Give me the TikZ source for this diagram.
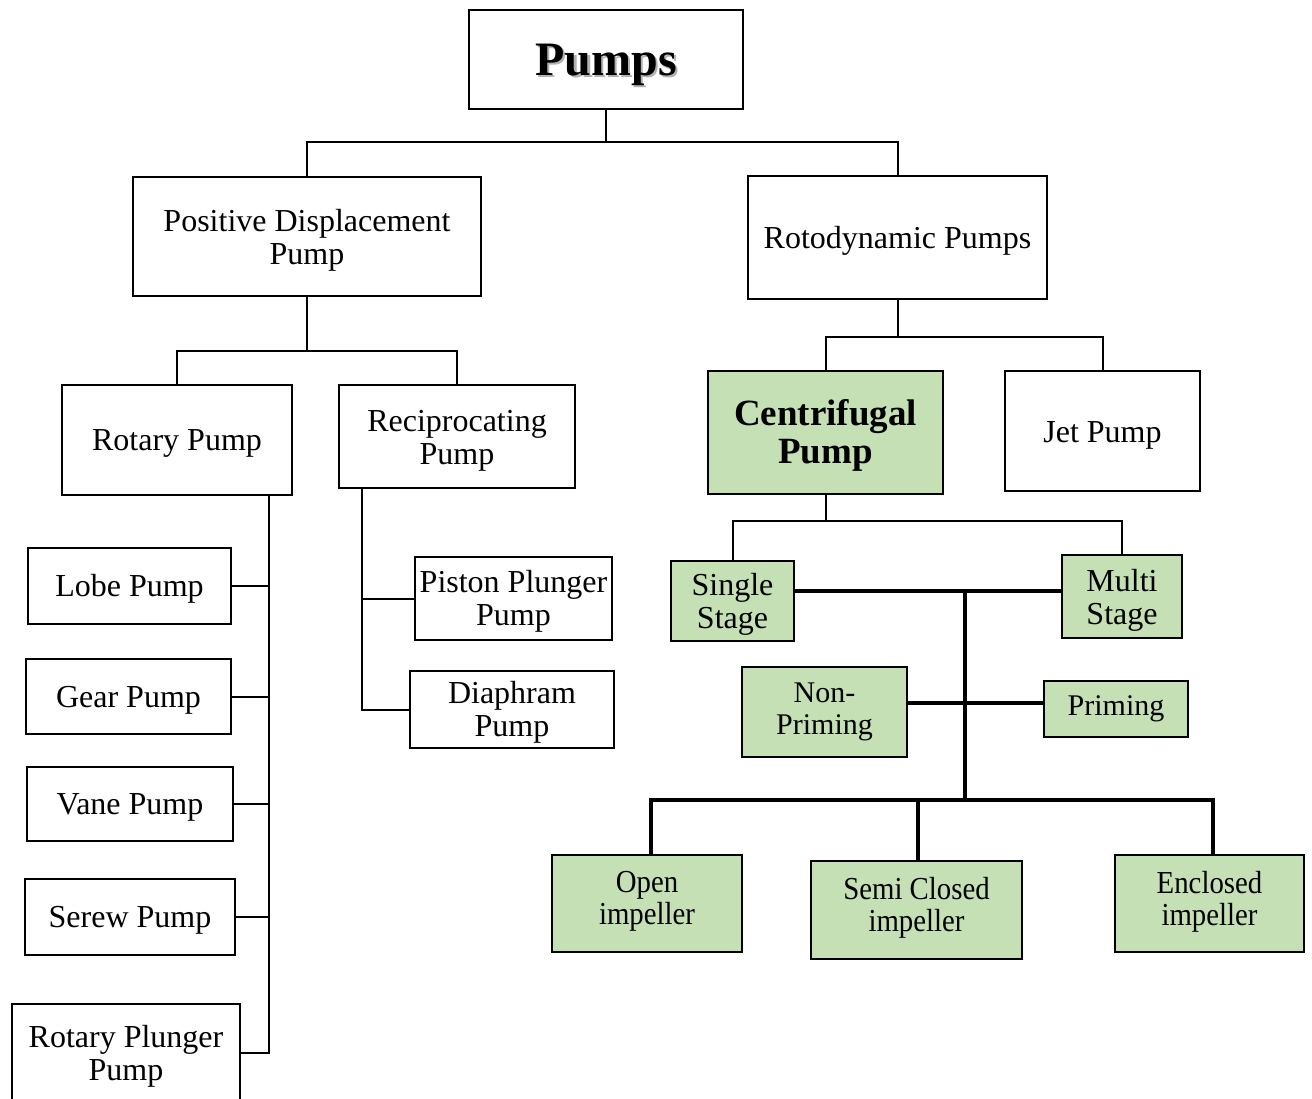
\documentclass[tikz,border=0pt]{standalone}
\usepackage{fontspec}
\setmainfont{Liberation Serif}
\newfontfamily\condfont[FakeStretch=0.9]{Liberation Serif}
\definecolor{boxgreen}{RGB}{197,224,180}
\newcommand\tstrut[1]{\rule{0pt}{#1}}
\newcommand\bstrut[1]{\rule[-#1]{0pt}{0pt}}
\begin{document}
\begin{tikzpicture}[x=1pt,y={(0pt,-1pt)},
  box/.style={draw=black,line width=2pt,fill=white,inner sep=0pt,align=center,
    font=\fontsize{32}{33}\selectfont},
  gbox/.style={box,fill=boxgreen},
  thin/.style={line width=2pt,line join=miter},
  thickline/.style={line width=3.5pt,line join=miter}]
\useasboundingbox (0,0) rectangle (1312,1099);
\clip (0,0) rectangle (1312,1099);
% nodes
\node[box,minimum width=274pt,minimum height=99pt] (pumps) at (606,59.5)
  {\bfseries\fontsize{48}{50}\selectfont\tstrut{44pt}\makebox[0pt][l]{\kern2.5pt\raisebox{-2.5pt}{\color{black!30}Pumps}}Pumps};
\node[box,minimum width=348pt,minimum height=119pt] (pd) at (307,236.5) {\tstrut{30pt}Positive Displacement\\Pump};
\node[box,minimum width=299pt,minimum height=123pt] (roto) at (897.5,237.5) {\tstrut{29pt}Rotodynamic Pumps};
\node[box,minimum width=230pt,minimum height=110pt] (rotary) at (177,440) {\tstrut{28pt}Rotary Pump};
\node[box,minimum width=236pt,minimum height=103pt] (recip) at (457,436.5) {\tstrut{30pt}Reciprocating\\Pump};
\node[box,minimum width=203pt,minimum height=76pt] (lobe) at (129.5,586) {\tstrut{28pt}Lobe Pump};
\node[box,minimum width=205pt,minimum height=75pt] (gear) at (128.5,696.5) {\tstrut{28pt}Gear Pump};
\node[box,minimum width=206pt,minimum height=74pt] (vane) at (130,804) {\tstrut{28pt}Vane Pump};
\node[box,minimum width=210pt,minimum height=76pt] (serew) at (130,917) {\tstrut{28pt}Serew Pump};
\node[box,minimum width=228pt,minimum height=98pt] (rplunger) at (126,1053) {\tstrut{29pt}Rotary Plunger\\Pump};
\node[box,minimum width=197pt,minimum height=83pt] (piston) at (513.5,598.5) {\tstrut{28pt}Piston Plunger\\Pump};
\node[box,minimum width=204pt,minimum height=77pt] (diaphram) at (512,709.5) {\tstrut{28pt}Diaphram\\Pump};
\node[gbox,minimum width=235pt,minimum height=123pt,font=\bfseries\fontsize{37}{38}\selectfont] (centrifugal) at (825.5,432.5) {\tstrut{31pt}Centrifugal\\Pump};
\node[box,minimum width=195pt,minimum height=120pt] (jet) at (1102.5,431) {\tstrut{29pt}Jet Pump};
\node[gbox,minimum width=123pt,minimum height=80pt] (single) at (732.5,601) {\tstrut{29pt}Single\\Stage};
\node[gbox,minimum width=120pt,minimum height=83pt] (multi) at (1122,596.5) {\tstrut{29pt}Multi\\Stage};
\node[gbox,minimum width=165pt,minimum height=90pt,font=\fontsize{30}{32}\selectfont] (nonpriming) at (824.5,712) {Non-\\Priming};
\node[gbox,minimum width=144pt,minimum height=56pt,font=\fontsize{30}{32}\selectfont] (priming) at (1116,709) {Priming};
\node[gbox,minimum width=190pt,minimum height=97pt,font=\condfont\fontsize{32}{32}\selectfont] (open) at (647,903.5) {Open\\impeller\bstrut{11pt}};
\node[gbox,minimum width=211pt,minimum height=98pt,font=\condfont\fontsize{32}{32}\selectfont] (semi) at (916.5,910) {Semi Closed\\impeller\bstrut{11pt}};
\node[gbox,minimum width=189pt,minimum height=97pt,font=\condfont\fontsize{32}{32}\selectfont] (enclosed) at (1209.5,903.5) {Enclosed\\impeller\bstrut{11pt}};
% helper coordinates
\coordinate (rb) at ([xshift=-24pt]rotary.south east);
\coordinate (qb) at ([xshift=24pt]recip.south west);
\coordinate (hub1) at (965,591);
\coordinate (hub2) at (965,703);
\coordinate (hub3) at (965,800);
\coordinate (oc) at ([xshift=4pt]open.north);
\coordinate (ec) at ([xshift=3.5pt]enclosed.north);
\coordinate (sc) at ([xshift=1.5pt]semi.north);
% connectors
\draw[thin] (pumps.south) -- ++(0,32) -| (pd.north);
\draw[thin] (pumps.south) ++(0,32) -| (roto.north);
\draw[thin] (pd.south) -- ++(0,54) -| (rotary.north);
\draw[thin] (pd.south) ++(0,54) -| (recip.north);
\draw[thin] (rb) |- (rplunger.east);
\draw[thin] (lobe.east) -- (lobe.east -| rb);
\draw[thin] (gear.east) -- (gear.east -| rb);
\draw[thin] (vane.east) -- (vane.east -| rb);
\draw[thin] (serew.east) -- (serew.east -| rb);
\draw[thin] (qb) |- (diaphram.west);
\draw[thin] (piston.west) -- (piston.west -| qb);
\draw[thin] (roto.south) -- ++(0,37) -| (centrifugal.north);
\draw[thin] (roto.south) ++(0,37) -| (jet.north);
\draw[thin] (centrifugal.south) -- ++(0,26) -| (single.north);
\draw[thin] (centrifugal.south) ++(0,26) -| (multi.north);
\draw[thickline] (single.east |- hub1) -- (multi.west |- hub1);
\draw[thickline] (hub1) -- (hub3);
\draw[thickline] (nonpriming.east |- hub2) -- (priming.west |- hub2);
\draw[thickline] (oc) |- (ec |- hub3) -- (ec);
\draw[thickline] (sc) -- (sc |- hub3);
\end{tikzpicture}
\end{document}
